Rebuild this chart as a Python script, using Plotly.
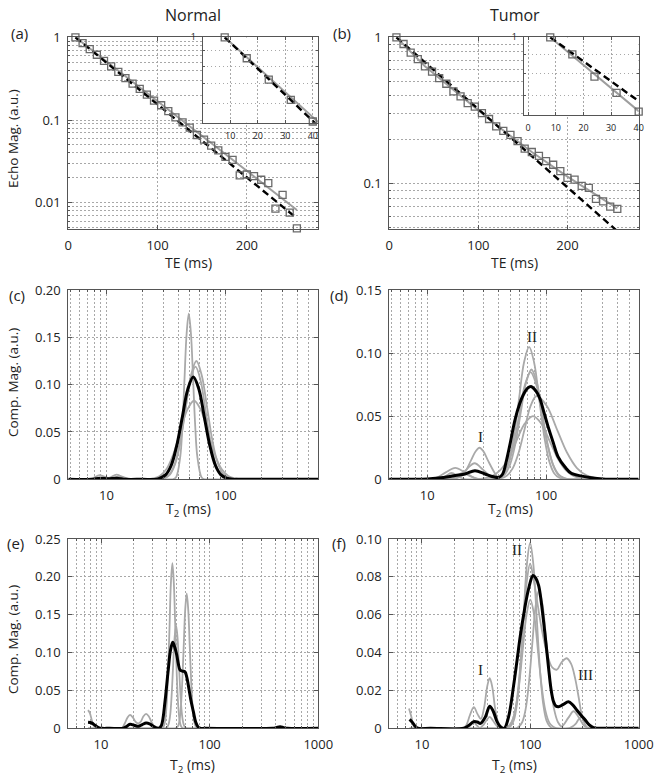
import plotly.graph_objects as go

W, H = 664, 783
def fx(p): return p / W
def fy(p): return 1 - p / H

FONT = "Open Sans"
SERIF = "Liberation Serif"
TXT = "#222222"
AX = "#555555"
GRID = "#a8a8a8"
GDASH = "1.5px,2.5px"
GRAY = "#a9a9a9"

# ---------------- echo decay data (panels a, b) ----------------
TE = [8, 16, 24, 32, 40, 48, 56, 64, 72, 80, 88, 96, 104, 112, 120, 128,
      136, 144, 152, 160, 168, 176, 184, 192, 200, 208, 216, 224, 232, 240, 248, 256]
normal_echo = [1.0, 0.85, 0.72, 0.615, 0.52, 0.445, 0.383, 0.322, 0.275, 0.238, 0.203, 0.172,
               0.151, 0.128, 0.108, 0.094, 0.081, 0.066, 0.058, 0.049, 0.043, 0.036, 0.033,
               0.0215, 0.022, 0.021, 0.019, 0.0173, 0.0085, 0.0125, 0.0076, 0.0049]
tumor_echo = [1.0, 0.90, 0.785, 0.71, 0.633, 0.584, 0.526, 0.482, 0.427, 0.395, 0.356, 0.337,
              0.304, 0.277, 0.247, 0.23, 0.216, 0.196, 0.174, 0.165, 0.155, 0.143, 0.135,
              0.122, 0.110, 0.107, 0.097, 0.094, 0.079, 0.076, 0.070, 0.0676]
fit_TE = [8, 256]
normal_mono = [1.0, 0.0065]
normal_multi = [1.0, 0.0082]
tumor_mono = [1.0, 0.0476]
tumor_multi_TE = [8, 40, 80, 120, 160, 200, 256]
tumor_multi = [1.0, 0.635, 0.40, 0.252, 0.165, 0.112, 0.068]

# ---------------- T2 distributions (panel c) ----------------
c_black_T2 = [4.8, 7.5, 8.8, 10.3, 12.2, 14.5, 20, 26.3, 28.2, 31.4, 35.0, 38.9, 43.4, 48.3, 53.7,
              59.8, 66.5, 74.1, 82.4, 91.7, 102, 115, 130, 660]
c_black = [0, 0, 0.0012, 0.0006, 0.0012, 0, 0, 0, 0.0012, 0.0047, 0.0146, 0.0351, 0.0656, 0.0953,
           0.108, 0.0953, 0.0656, 0.0351, 0.0146, 0.0047, 0.0012, 0, 0, 0]
c_g1_T2 = [4.8, 33, 36, 38.4, 41.7, 43.5, 45.3, 47.2, 49.2, 51.3, 53.5, 55.7, 58.1, 63.1, 67, 72, 660]
c_g1 = [0, 0, 0, 0.002, 0.0237, 0.0569, 0.106, 0.154, 0.175, 0.154, 0.106, 0.0569, 0.0237, 0.002, 0, 0, 0]
c_g2_T2 = [4.8, 7.3, 8.8, 10.4, 12.2, 14.5, 17, 28, 30.6, 34, 37.7, 41.8, 46.3, 51.4, 57.0, 63.2,
           70.1, 77.8, 86.3, 95.7, 106, 120, 135, 660]
c_g2 = [0, 0, 0.0045, 0.0015, 0.005, 0.0005, 0, 0, 0.0014, 0.0055, 0.0169, 0.0406, 0.0759, 0.110,
        0.125, 0.110, 0.0759, 0.0406, 0.0169, 0.0055, 0.0014, 0, 0, 0]
c_g3_T2 = [4.8, 25, 28, 31.1, 34.3, 37.8, 41.7, 46.0, 50.8, 56.0, 61.7, 68.1, 75.1, 82.8, 91.3,
           100.7, 115, 130, 660]
c_g3 = [0, 0, 0, 0.0013, 0.0052, 0.0161, 0.0387, 0.0722, 0.105, 0.119, 0.105, 0.0722, 0.0387,
        0.0161, 0.0052, 0.0013, 0, 0, 0]
c_g4_T2 = [4.8, 8, 9.5, 11, 13, 16, 22, 24.6, 28.1, 32.1, 36.6, 41.8, 47.7, 54.5, 62.2, 71.0, 81.0,
           92.5, 105.6, 120.5, 140, 160, 660]
c_g4 = [0, 0, 0.002, 0.001, 0.003, 0, 0, 0.0009, 0.0036, 0.0112, 0.0270, 0.0504, 0.0732, 0.083,
        0.0732, 0.0504, 0.0270, 0.0112, 0.0036, 0.0009, 0, 0, 0]

# ---------------- T2 distributions (panel d) ----------------
d_black_T2 = [4.7, 8, 10, 12.4, 15, 17.2, 20.8, 25.2, 30.6, 36, 40, 43, 46.5, 50, 54.7, 60, 64.2,
              70, 75.4, 82, 88.5, 96, 104, 115, 126, 145, 163, 200, 240, 300, 350, 600]
d_black = [0, 0, 0.0003, 0.001, 0.002, 0.003, 0.0042, 0.0068, 0.0042, 0.002, 0.0015, 0.004, 0.0153,
           0.029, 0.047, 0.060, 0.0668, 0.0722, 0.0734, 0.070, 0.0642, 0.053, 0.0417, 0.029, 0.018,
           0.0095, 0.0048, 0.0025, 0.0012, 0.0002, 0, 0]
d_ga_T2 = [4.7, 13, 15, 16.9, 19.9, 23.4, 25.4, 27.5, 29.8, 32.3, 37.9, 40.0, 44.1, 48.6, 53.6, 59.2,
           65.2, 72.0, 79.3, 87.5, 96.5, 106.4, 117.3, 129.4, 145, 165, 600]
d_ga = [0, 0, 0, 0.0003, 0.0034, 0.0152, 0.0219, 0.025, 0.0219, 0.0152, 0.0034, 0.0012, 0.0046,
        0.0142, 0.0341, 0.0637, 0.0926, 0.105, 0.0926, 0.0637, 0.0341, 0.0142, 0.0046, 0.0012, 0, 0, 0]
d_gb_T2 = [4.7, 13, 15.5, 18.1, 21.3, 25, 29.4, 34.5, 38, 40.5, 45, 49.8, 55.2, 61.2, 67.9, 75.3,
           83.6, 92.7, 102.8, 114, 126.3, 140, 160, 180, 600]
d_gb = [0, 0, 0, 0.0017, 0.0077, 0.0127, 0.0077, 0.0017, 0.0003, 0.001, 0.0038, 0.0118, 0.0283,
        0.0528, 0.0767, 0.087, 0.0767, 0.0528, 0.0283, 0.0118, 0.0038, 0.001, 0, 0, 0]
d_gc_T2 = [4.7, 8.5, 10, 11.9, 14.3, 17.2, 20.7, 24.9, 28, 34, 38.5, 43, 47.9, 53.4, 59.6, 66.4,
           74.1, 82.7, 92.3, 102.9, 114.8, 128, 142.9, 160, 180, 600]
d_gc = [0, 0, 0, 0.0012, 0.0055, 0.009, 0.0055, 0.0012, 0, 0, 0.001, 0.0037, 0.0115, 0.0276, 0.0516,
        0.075, 0.085, 0.075, 0.0516, 0.0276, 0.0115, 0.0037, 0.001, 0, 0, 0]
d_gd_T2 = [4.7, 12, 14, 17, 20, 23.5, 27, 29.5, 34.6, 40.7, 47.9, 56.2, 66.1, 77.6, 91.2, 107.2,
           125.9, 147.9, 173.8, 204, 240, 270, 600]
d_gd = [0, 0, 0, 0.002, 0.005, 0.002, 0.0003, 0.0006, 0.0022, 0.0068, 0.0162, 0.0303, 0.0441, 0.05,
        0.0441, 0.0303, 0.0162, 0.0068, 0.0022, 0.0006, 0, 0, 0]
d_ge_T2 = [4.7, 10, 12, 14, 16, 18.3, 21, 25, 36, 41.7, 46.8, 52.5, 58.9, 66.1, 74.1, 83.2, 101.2,
           123, 149.6, 182, 221, 269, 320, 360, 600]
d_ge = [0, 0, 0, 0.002, 0.005, 0.002, 0, 0, 0, 0.0007, 0.0029, 0.0089, 0.0214, 0.040, 0.0582, 0.066,
        0.0582, 0.040, 0.0214, 0.0089, 0.0029, 0.0007, 0, 0, 0]

# ---------------- T2 distributions (panel e) ----------------
e_black_T2 = [7.6, 8.2, 8.8, 9.5, 10.2, 12, 16, 17, 18.5, 20.2, 22.1, 24, 26, 28, 30, 32.1, 34, 36,
              38.8, 40.3, 41.7, 43.5, 45.7, 47.5, 49.8, 51.5, 53.4, 56, 59.3, 61.5, 63.6, 67, 70.8,
              74.5, 78.7, 82, 90, 380, 410, 445, 480, 520, 1000]
e_black = [0.0079, 0.007, 0.004, 0.001, 0, 0, 0, 0.002, 0.0053, 0.004, 0.0026, 0.005, 0.007, 0.006,
           0.003, 0.001, 0, 0.004, 0.035, 0.058, 0.079, 0.102, 0.1136, 0.108, 0.0968, 0.085, 0.077,
           0.0755, 0.0745, 0.068, 0.057, 0.038, 0.022, 0.008, 0.0013, 0, 0, 0, 0.0008, 0.002, 0.0008, 0, 0]
e_g1_T2 = [7.6, 33, 36, 37.7, 38.9, 40.1, 41.3, 42.7, 44.0, 45.4, 46.8, 48.3, 49.8, 51.4, 53.0, 54.7,
           57, 60, 1000]
e_g1 = [0, 0, 0, 0.0024, 0.0096, 0.0295, 0.0708, 0.132, 0.192, 0.218, 0.192, 0.132, 0.0708, 0.0295,
        0.0096, 0.0024, 0, 0, 0]
e_g2_T2 = [7.6, 45, 48, 50.7, 52.4, 54.1, 55.8, 57.7, 59.6, 61.5, 63.5, 65.6, 67.8, 70.0, 72.3, 74.6,
           77, 81, 1000]
e_g2 = [0, 0, 0, 0.002, 0.0078, 0.0241, 0.0578, 0.108, 0.157, 0.178, 0.157, 0.108, 0.0578, 0.0241,
        0.0078, 0.002, 0, 0, 0]
e_g3_T2 = [7.6, 7.9, 8.3, 8.8, 9.5, 12, 15.5, 16.5, 17.5, 18.5, 19.7, 21, 22.1, 23.3, 24.6, 26, 27.5,
           29.2, 31, 33, 36, 39, 40.7, 42.0, 43.4, 44.7, 46.1, 47.6, 49.1, 50.6, 52.2, 53.9, 55.6,
           57.4, 59.2, 62, 66, 1000]
e_g3 = [0.024, 0.02, 0.009, 0.001, 0, 0, 0, 0.006, 0.014, 0.0176, 0.014, 0.008, 0.0066, 0.009, 0.016,
        0.019, 0.016, 0.008, 0.002, 0, 0, 0, 0.0015, 0.006, 0.0184, 0.0442, 0.0825, 0.12, 0.136, 0.12,
        0.0825, 0.0442, 0.0184, 0.006, 0.0015, 0, 0, 0]

# ---------------- T2 distributions (panel f) ----------------
f_black_T2 = [7.7, 8.2, 8.7, 9.2, 12, 24.3, 27, 30.1, 32.5, 34.7, 38.5, 42.2, 45.5, 49.3, 53, 57.5,
              63, 70.2, 75.5, 80.9, 88, 96.4, 105.9, 112, 119.4, 126, 132.8, 140, 147.6, 155, 164,
              172, 182, 200, 225, 245, 269, 295, 321, 350, 383, 420, 500, 1000]
f_black = [0.0047, 0.003, 0.001, 0, 0, 0, 0.0015, 0.0035, 0.0033, 0.0026, 0.006, 0.0117, 0.009,
           0.0035, 0.0008, 0, 0.006, 0.0228, 0.036, 0.049, 0.062, 0.0737, 0.0807, 0.0795, 0.0754,
           0.067, 0.056, 0.044, 0.0316, 0.021, 0.014, 0.0118, 0.0114, 0.0125, 0.014, 0.0125, 0.0096,
           0.0068, 0.0044, 0.0018, 0.0003, 0, 0, 0]
f_g1_T2 = [7.6, 8.0, 8.4, 8.8, 10, 55, 60, 65.8, 70.5, 75.5, 80.9, 86.7, 92.9, 99.6, 106.7, 114.3,
           122.5, 131.2, 140.6, 150.7, 160, 175, 1000]
f_g1 = [0.0105, 0.006, 0.001, 0, 0, 0, 0, 0.0011, 0.0043, 0.0133, 0.0318, 0.0595, 0.0865, 0.098,
        0.0865, 0.0595, 0.0318, 0.0133, 0.0043, 0.0011, 0, 0, 0]
f_g2_T2 = [7.7, 20, 24, 25.6, 27.7, 30.1, 32.6, 35, 37.5, 40, 42.2, 44.5, 47.5, 51, 55, 60, 63.5,
           68.5, 73.8, 79.5, 85.7, 92.4, 99.6, 107, 115, 125, 133, 145, 160, 176, 195, 217, 238, 260,
           280, 299, 320, 340, 380, 1000]
f_g2 = [0, 0, 0, 0.0015, 0.0069, 0.0112, 0.0075, 0.005, 0.011, 0.022, 0.0265, 0.022, 0.010, 0.0025,
        0, 0, 0.001, 0.0042, 0.0118, 0.0282, 0.0528, 0.0767, 0.087, 0.079, 0.068, 0.055, 0.047, 0.038,
        0.032, 0.031, 0.035, 0.037, 0.034, 0.026, 0.016, 0.0068, 0.002, 0, 0, 0]
f_g3_T2 = [7.7, 30, 34, 36.5, 39.2, 42.2, 45.3, 48.7, 52, 56, 70, 74, 78.3, 84.1, 90.4, 97.0, 104.2,
           111.9, 120.2, 130.3, 141.3, 153.1, 166, 180, 195, 224, 251, 282, 316, 355, 400, 1000]
f_g3 = [0, 0, 0, 0.0015, 0.004, 0.006, 0.004, 0.0015, 0, 0, 0, 0, 0.0008, 0.0032, 0.0099, 0.0237,
        0.0443, 0.0644, 0.073, 0.0644, 0.0443, 0.0237, 0.0099, 0.0032, 0.001, 0.0055, 0.009, 0.0055,
        0.0012, 0, 0, 0]
f_g4_T2 = [7.7, 22, 26, 28, 30, 32.2, 34.5, 40, 58, 61.7, 66.8, 72.4, 78.5, 85.1, 92.3, 100, 108.4,
           117.5, 127.4, 138, 149.6, 162.2, 175, 225, 240, 262, 280, 300, 321, 343, 368, 390, 420, 1000]
f_g4 = [0, 0, 0, 0.0015, 0.003, 0.0015, 0, 0, 0, 0.0008, 0.003, 0.0092, 0.022, 0.0413, 0.06, 0.068,
        0.06, 0.0413, 0.022, 0.0092, 0.003, 0.0008, 0, 0, 0.0006, 0.0023, 0.0048, 0.006, 0.0048,
        0.0023, 0.0006, 0, 0, 0]

# ---------------- figure ----------------
fig = go.Figure()

def curve(ax, x, y, color, width):
    fig.add_trace(go.Scatter(x=x, y=y, xaxis="x" + ax, yaxis="y" + ax, mode="lines",
                             line=dict(color=color, width=width, shape="spline", smoothing=1.0),
                             showlegend=False, hoverinfo="skip"))

def fitline(ax, x, y, color, width, dash):
    fig.add_trace(go.Scatter(x=x, y=y, xaxis="x" + ax, yaxis="y" + ax, mode="lines",
                             line=dict(color=color, width=width, dash=dash),
                             showlegend=False, hoverinfo="skip"))

def squares(ax, x, y, size=7):
    fig.add_trace(go.Scatter(x=x, y=y, xaxis="x" + ax, yaxis="y" + ax, mode="markers",
                             marker=dict(symbol="square", size=size, color="rgba(255,255,255,0)",
                                         line=dict(color="#6a6a6a", width=1.3)),
                             cliponaxis=False, showlegend=False, hoverinfo="skip"))

DASH = "7px,4px"
for ax, n in (("", 32), ("7", 5)):
    fitline(ax, fit_TE, normal_multi, "#9e9e9e", 2, "solid")
    fitline(ax, fit_TE, normal_mono, "black", 2.4, DASH)
    squares(ax, TE[:n], normal_echo[:n])
for ax, n in (("2", 32), ("8", 5)):
    fitline(ax, tumor_multi_TE, tumor_multi, "#9e9e9e", 2, "solid")
    fitline(ax, fit_TE, tumor_mono, "black", 2.4, DASH)
    squares(ax, TE[:n], tumor_echo[:n])

for x, y in ((c_g1_T2, c_g1), (c_g2_T2, c_g2), (c_g3_T2, c_g3), (c_g4_T2, c_g4)):
    curve("3", x, y, GRAY, 1.8)
curve("3", c_black_T2, c_black, "black", 3)
for x, y in ((d_ga_T2, d_ga), (d_gb_T2, d_gb), (d_gc_T2, d_gc), (d_gd_T2, d_gd), (d_ge_T2, d_ge)):
    curve("4", x, y, GRAY, 1.8)
curve("4", d_black_T2, d_black, "black", 3)
for x, y in ((e_g1_T2, e_g1), (e_g2_T2, e_g2), (e_g3_T2, e_g3)):
    curve("5", x, y, GRAY, 1.8)
curve("5", e_black_T2, e_black, "black", 3)
for x, y in ((f_g1_T2, f_g1), (f_g2_T2, f_g2), (f_g3_T2, f_g3), (f_g4_T2, f_g4)):
    curve("6", x, y, GRAY, 1.8)
curve("6", f_black_T2, f_black, "black", 3)

def base_axis(dom, anchor, size=13):
    return dict(domain=dom, anchor=anchor, showline=True, linecolor=AX, linewidth=1, mirror="ticks",
                ticks="inside", ticklen=4, tickcolor=AX, showgrid=True, gridcolor=GRID,
                griddash=GDASH, gridwidth=1, zeroline=False, ticklabelstandoff=4, automargin=False,
                tickfont=dict(family=FONT, size=size, color=TXT))

def minor(vals, ln=2):
    return dict(tickmode="array", tickvals=vals, showgrid=True, gridcolor=GRID, griddash=GDASH,
                gridwidth=1, ticks="inside", ticklen=ln, tickcolor=AX)

LX, RX1, LX2, RX2 = 68.3, 318.3, 389.3, 638.7
XL = [fx(LX), fx(RX1)]
XR = [fx(LX2), fx(RX2)]
Y1 = [fy(229.3), fy(37.3)]
Y2 = [fy(479.3), fy(290)]
Y3 = [fy(728.3), fy(539)]

log_minor_y_a = [0.005, 0.006, 0.007, 0.008, 0.009, 0.02, 0.03, 0.04, 0.05, 0.06, 0.07, 0.08, 0.09,
                 0.2, 0.3, 0.4, 0.5, 0.6, 0.7, 0.8, 0.9]
t2_minor = [5, 6, 7, 8, 9, 20, 30, 40, 50, 60, 70, 80, 90, 200, 300, 400, 500, 600, 700, 800, 900]

lay = dict(template="none", width=W, height=H, margin=dict(l=0, r=0, t=0, b=0, autoexpand=False),
           autosize=False, paper_bgcolor="white", plot_bgcolor="white", showlegend=False,
           hovermode=False)

xa = base_axis(XL, "y"); xa.update(range=[0, 280], tickvals=[0, 100, 200])
ya = base_axis(Y1, "x"); ya.update(type="log", range=[-2.32, 0], tickvals=[0.01, 0.1, 1],
                                   ticktext=["0.01", "0.1", "1"], minor=minor(log_minor_y_a))
lay["xaxis"], lay["yaxis"] = xa, ya
xb = base_axis(XR, "y2"); xb.update(range=[0, 280], tickvals=[0, 100, 200])
yb = base_axis(Y1, "x2"); yb.update(type="log", range=[-1.31, 0], tickvals=[0.1, 1],
                                    ticktext=["0.1", "1"], minor=minor(log_minor_y_a))
lay["xaxis2"], lay["yaxis2"] = xb, yb
t2_ticks = dict(type="log", tickvals=[10, 100, 1000], ticktext=["10", "100", "1000"], minor=minor(t2_minor))
xc = base_axis(XL, "y3"); xc.update(t2_ticks, range=[0.68, 2.78])
yc = base_axis(Y2, "x3"); yc.update(range=[0, 0.2], tickvals=[0, 0.05, 0.1, 0.15, 0.2],
                                    ticktext=["0", "0.05", "0.10", "0.15", "0.20"])
xd = base_axis(XR, "y4"); xd.update(t2_ticks, range=[0.68, 2.78])
yd = base_axis(Y2, "x4"); yd.update(range=[0, 0.15], tickvals=[0, 0.05, 0.1, 0.15],
                                    ticktext=["0", "0.05", "0.10", "0.15"])
xe = base_axis(XL, "y5"); xe.update(t2_ticks, range=[0.699, 3])
ye = base_axis(Y3, "x5"); ye.update(range=[0, 0.25], tickvals=[0, 0.05, 0.1, 0.15, 0.2, 0.25],
                                    ticktext=["0", "0.05", "0.10", "0.15", "0.20", "0.25"])
xf = base_axis(XR, "y6"); xf.update(t2_ticks, range=[0.699, 3])
yf = base_axis(Y3, "x6"); yf.update(range=[0, 0.1], tickvals=[0, 0.02, 0.04, 0.06, 0.08, 0.1],
                                    ticktext=["0", "0.02", "0.04", "0.06", "0.08", "0.10"])
lay.update(xaxis3=xc, yaxis3=yc, xaxis4=xd, yaxis4=yd, xaxis5=xe, yaxis5=ye, xaxis6=xf, yaxis6=yf)

x7 = base_axis([fx(202.7), fx(RX1)], "y7", 9); x7.update(range=[0, 42], tickvals=[10, 20, 30, 40], ticklen=3)
y7 = base_axis([fy(122.7), fy(37.3)], "x7", 9); y7.update(type="log", range=[-0.288, 0], tickvals=[1],
                                                        ticktext=["1"], ticklen=3,
                                                        minor=minor([0.6, 0.7, 0.8, 0.9]))
x8 = base_axis([fx(523.7), fx(RX2)], "y8", 9); x8.update(range=[-1.6, 40], tickvals=[0, 10, 20, 30, 40], ticklen=3)
y8 = base_axis([fy(115), fy(37.3)], "x8", 9); y8.update(type="log", range=[-0.2076, 0], tickvals=[1],
                                                      ticktext=["1"], ticklen=3,
                                                      minor=minor([0.7, 0.8, 0.9]))
lay.update(xaxis7=x7, yaxis7=y7, xaxis8=x8, yaxis8=y8)

ann = []
def text(px, py, s, size=13, angle=0, family=FONT):
    ann.append(dict(x=fx(px), y=fy(py), xref="paper", yref="paper", text=s, showarrow=False,
                    textangle=angle, xanchor="center", yanchor="middle",
                    font=dict(family=family, size=size, color=TXT)))

text(193, 15, "Normal", 16)
text(515, 15, "Tumor", 16)
for (px, py, s) in ((19, 33, "(a)"), (342, 33, "(b)"), (17, 295, "(c)"), (339, 295, "(d)"),
                    (15, 543, "(e)"), (339, 543, "(f)")):
    text(px, py, s, 15)
text(13, 139, "Echo Mag. (a.u.)", 13.5, -90)
text(13, 383, "Comp. Mag. (a.u.)", 13.5, -90)
text(13, 640, "Comp. Mag. (a.u.)", 13.5, -90)
text(188, 262, "TE (ms)", 14)
text(514, 262, "TE (ms)", 14)
for (px, py) in ((188, 510), (510, 510), (192, 765), (514, 765)):
    text(px, py, "T<sub>2</sub> (ms)", 14)
for (px, py, s) in ((480, 437, "I"), (532, 337, "II"), (517, 550, "II"), (480, 670, "I"), (585, 675, "III")):
    text(px, py, s, 15, 0, SERIF)
lay["annotations"] = ann

fig.update_layout(lay)
fig.write_html("out.html", config={"displayModeBar": False},
               post_script="document.body.style.margin='0px';")
